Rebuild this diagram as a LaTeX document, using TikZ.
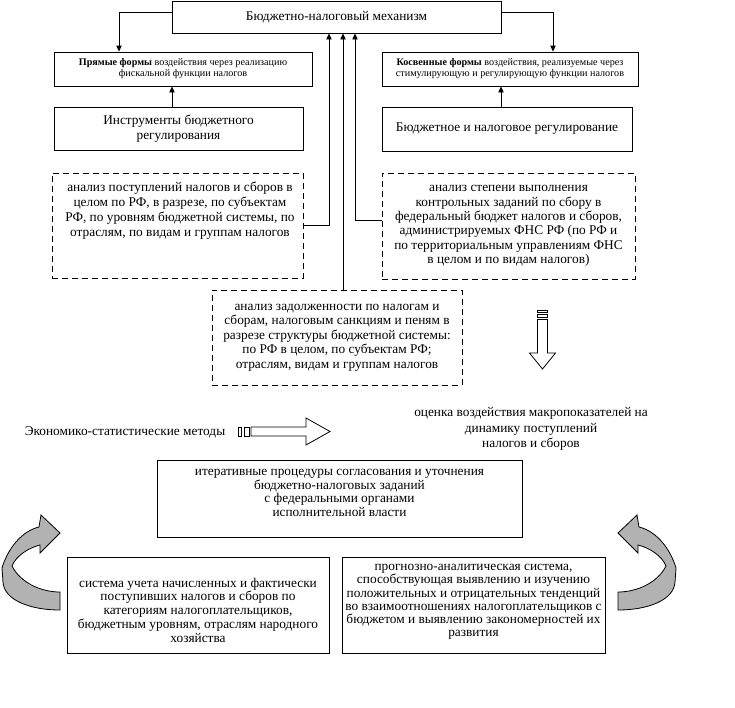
\documentclass[tikz,border=0pt]{standalone}
\usepackage{fontspec}
\setmainfont{Liberation Serif}
\usetikzlibrary{arrows.meta,calc}
\begin{document}
\begin{tikzpicture}[x=0.75pt,y=-0.75pt,
  every path/.style={line width=0.6pt},
  frame/.style={draw, line width=0.6pt, inner sep=0pt, align=center},
  dframe/.style={frame, dash pattern=on 4.5pt off 3pt},
  txt/.style={inner sep=0pt, align=center},
  big/.style={font=\fontsize{10}{11.25}\selectfont},
  small/.style={font=\fontsize{7.6}{8.3}\selectfont},
  arr/.style={-{Triangle[length=4.5pt,width=4pt]}},
  curv/.style={fill=black!30, draw=black, line width=0.6pt}
]
\useasboundingbox (0,0) rectangle (735,707);

% top
\node[frame, big, minimum width=246.75pt, minimum height=24pt] (top) at (336.5,17) {Бюджетно-налоговый механизм};
\node[frame, small, minimum width=193.5pt, minimum height=25.5pt] (lsmall) at (183,69)
  {\textbf{Прямые формы} воздействия через реализацию\\фискальной функции налогов};
\node[frame, small, minimum width=192pt, minimum height=25.5pt] (rsmall) at (510,69)
  {\textbf{Косвенные формы} воздействия, реализуемые через\\стимулирующую и регулирующую функции налогов};
\node[frame, big, minimum width=186.75pt, minimum height=32.25pt] (instr) at (178.5,128.5)
  {Инструменты бюджетного\\регулирования};
\node[frame, big, minimum width=187.5pt, minimum height=33pt] (reg) at (507,129)
  {Бюджетное и налоговое регулирование};

% dashed boxes
\node[dframe, minimum width=188.25pt, minimum height=78.75pt] (ldash) at (177.5,225.5) {};
\node[txt, font=\fontsize{10}{11.25}\selectfont] (ldasht) at (180,211)
  {анализ поступлений налогов и сборов в\\целом по РФ, в разрезе, по субъектам\\РФ, по уровням бюджетной системы, по\\отраслям, по видам и группам налогов};
\node[dframe, font=\fontsize{10}{10.8}\selectfont, minimum width=189.75pt, minimum height=79.5pt] (rdash) at (508.5,226)
  {анализ степени выполнения\\контрольных заданий по сбору в\\федеральный бюджет налогов и сборов,\\администрируемых ФНС РФ (по РФ и\\по территориальным управлениям ФНС\\в целом и по видам налогов)};
\node[dframe, font=\fontsize{10}{10.9}\selectfont, minimum width=187.5pt, minimum height=71.25pt] (mdash) at (337,337.5)
  {анализ задолженности по налогам и\\сборам, налоговым санкциям и пеням в\\разрезе структуры бюджетной системы:\\по РФ в целом, по субъектам РФ;\\отраслям, видам и группам налогов};

% connectors
\draw[arr] ([yshift=3.75pt]top.west) -| ($(lsmall.north)+(-64,0)$);
\draw[arr] ([yshift=3.75pt]top.east) -| ($(rsmall.north)+(43,0)$);
\draw[arr] ($(instr.north)+(-6.5,0)$) coordinate (q1) -- (q1 |- lsmall.south);
\draw[arr] ($(reg.north)+(-6,0)$) coordinate (q2) -- (q2 |- rsmall.south);
\draw[arr] (ldash.east) -| ($(top.south)+(-7.5,0)$);
\draw[arr] ($(mdash.north)+(6,0)$) coordinate (q3) -- (q3 |- top.south);
\draw[arr] ($(rdash.west)+(0,-6)$) -| ($(top.south)+(18.5,0)$);

% striped down arrow
\draw (537.5,310) rectangle (547.5,312.5);
\draw (537.5,314.5) rectangle (547.5,317.5);
\draw (537.5,319.5) -- (537.5,353) -- (529.5,353) -- (542.5,369) -- (555.5,353) -- (547.5,353) -- (547.5,319.5) -- cycle;

% middle row
\node[txt, big] (econ) at (125,432) {Экономико-статистические методы};
\draw (238,427) rectangle (241,436);
\draw (244,427) rectangle (249,436);
\draw (251,427) -- (306,427) -- (306,418) -- (330,431.5) -- (306,445) -- (306,436) -- (251,436) -- cycle;
\node[txt, font=\fontsize{10}{11.5}\selectfont] (ocenka) at (531,429)
  {оценка воздействия макропоказателей на\\динамику поступлений\\налогов и сборов};

% iterative
\node[frame, minimum width=273.75pt, minimum height=57.75pt] (iter) at (339.5,498.5) {};
\node[txt, font=\fontsize{10}{10.1}\selectfont] (itert) at (339.5,493)
  {итеративные процедуры согласования и уточнения\\бюджетно-налоговых заданий\\с федеральными органами\\исполнительной власти};

% bottom boxes
\node[frame, minimum width=196.5pt, minimum height=72pt] (bl) at (198,605) {};
\node[txt, font=\fontsize{10}{10.3}\selectfont] (blt) at (198,610)
  {система учета начисленных и фактически\\поступивших налогов и сборов по\\категориям налогоплательщиков,\\бюджетным уровням, отраслям народного\\хозяйства};
\node[frame, minimum width=197.25pt, minimum height=72pt] (br) at (473.5,605) {};
\node[txt, font=\fontsize{10}{9.9}\selectfont] (brt) at (473.5,602)
  {прогнозно-аналитическая система,\\способствующая выявлению и изучению\\положительных и отрицательных тенденций\\во взаимоотношениях налогоплательщиков с\\бюджетом и выявлению закономерностей их\\развития};

% curved arrows
\path[curv] (60,610) .. controls (30,610) and (4,600) .. (3,582)
  -- (2,568)
  .. controls (8,548) and (22,531) .. (39,527)
  -- (41,515) -- (60,533) -- (40,553) -- (40,545)
  .. controls (28,548) and (16,556) .. (12,566)
  .. controls (20,582) and (40,592) .. (60,592) -- cycle;
\begin{scope}[shift={(678,0)}, xscale=-1]
\path[curv] (60,610) .. controls (30,610) and (4,600) .. (3,582)
  -- (2,568)
  .. controls (8,548) and (22,531) .. (39,527)
  -- (41,515) -- (60,533) -- (40,553) -- (40,545)
  .. controls (28,548) and (16,556) .. (12,566)
  .. controls (20,582) and (40,592) .. (60,592) -- cycle;
\end{scope}
\end{tikzpicture}
\end{document}
